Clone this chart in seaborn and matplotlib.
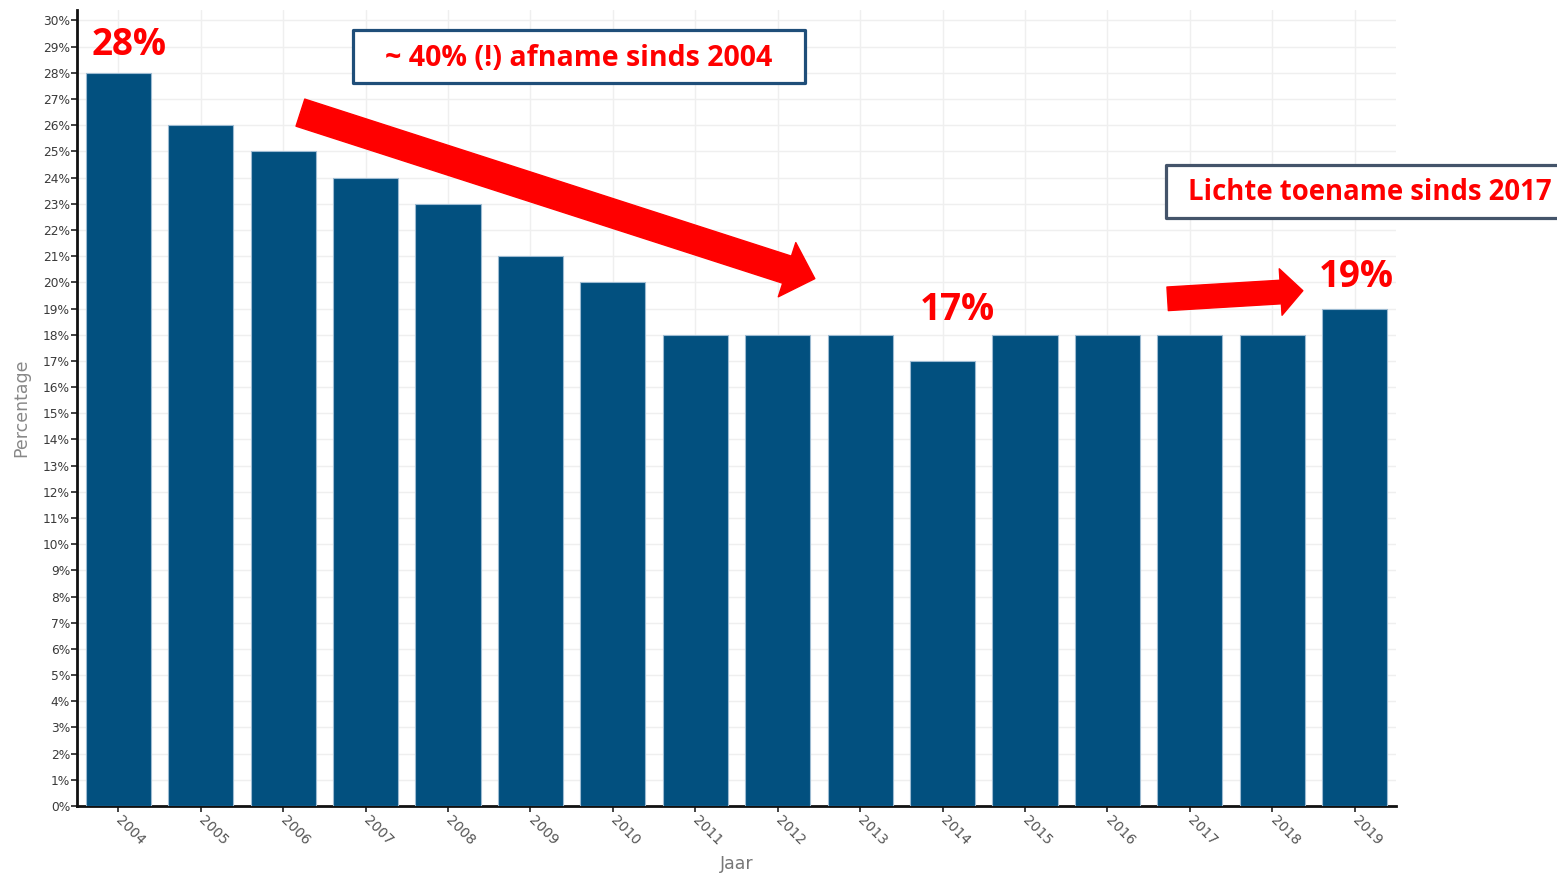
import matplotlib
matplotlib.use("Agg")
import matplotlib.pyplot as plt
from matplotlib.patches import FancyArrowPatch, Rectangle
import seaborn as sns
import pandas as pd

# Share of respondents per year (percent)
years = ["2004", "2005", "2006", "2007", "2008", "2009", "2010", "2011",
         "2012", "2013", "2014", "2015", "2016", "2017", "2018", "2019"]
percentages = [28, 26, 25, 24, 23, 21, 20, 18, 18, 18, 17, 18, 18, 18, 18, 19]

# Years whose value is written above the bar
highlight_years = ["2004", "2014", "2019"]

# Callout texts
callout_decline = "~ 40% (!) afname sinds 2004"
callout_rise = "Lichte toename sinds 2017"

BAR_COLOR = "#02507f"
RED = "#ff0000"
ANNOT_FONT = ["Open Sans", "DejaVu Sans"]

sns.set_theme(style="white")
plt.rcParams["font.family"] = ["DejaVu Sans"]

df = pd.DataFrame({"Jaar": years, "Percentage": percentages})

W, H = 1557, 873
fig = plt.figure(figsize=(W / 100, H / 100), dpi=100)
ax = fig.add_axes([77 / W, (H - 806) / H, (1396 - 77) / W, (806 - 10) / H])

sns.barplot(data=df, x="Jaar", y="Percentage", color=BAR_COLOR, saturation=1,
            width=0.79, edgecolor="#9dbbd2", linewidth=0.8, ax=ax, zorder=3)

ax.set_xlim(-0.5, len(years) - 0.5)
ax.set_ylim(0, 30.4)
ax.set_yticks(range(0, 31))
ax.set_yticklabels([f"{v}%" for v in range(0, 31)], fontsize=8.8, color="#3a3a3a")
ax.set_xticks(range(len(years)))
ax.set_xticklabels(years, rotation=-45, ha="left", va="center",
                   rotation_mode="anchor", fontsize=10, color="#555555")

ax.grid(True, color="#efefef", linewidth=1, zorder=0)
ax.set_axisbelow(True)
for side in ("top", "right"):
    ax.spines[side].set_visible(False)
for side in ("left", "bottom"):
    ax.spines[side].set_color("#111111")
    ax.spines[side].set_linewidth(2)
ax.tick_params(axis="y", which="major", length=4, width=1.2, color="#222222",
               direction="out", pad=1, left=True)
ax.tick_params(axis="x", which="major", length=4, width=1.2, color="#222222",
               direction="out", pad=5, bottom=True)

ax.set_xlabel("Jaar", fontsize=12.5, color="#777777", labelpad=5)
ax.set_ylabel("Percentage", fontsize=12.5, color="#888888", labelpad=9)

# Value labels above the highlighted bars
label_offsets = {"2004": (0.13, 1.08), "2014": (0.18, 1.95), "2019": (0.02, 1.2)}
for yr in highlight_years:
    i = years.index(yr)
    v = percentages[i]
    dx, dy = label_offsets[yr]
    ax.text(i + dx, v + dy, f"{v}%", color=RED, fontsize=26.5, fontweight="bold",
            family=ANNOT_FONT, ha="center", va="center", zorder=5)

# Trend arrows
arrow_down = FancyArrowPatch(
    (2.21, 26.48), (8.45, 20.14),
    arrowstyle="simple,head_length=21,head_width=41,tail_width=20.5",
    mutation_scale=1, shrinkA=0, shrinkB=0, color=RED, zorder=6,
    clip_on=False)
ax.add_patch(arrow_down)

arrow_up = FancyArrowPatch(
    (12.73, 19.37), (14.37, 19.68),
    arrowstyle="simple,head_length=16,head_width=33.5,tail_width=17",
    mutation_scale=1, shrinkA=0, shrinkB=0, color=RED, zorder=6,
    clip_on=False)
ax.add_patch(arrow_up)

# Callout boxes
box1 = Rectangle((353 / W, (H - 83) / H), 452 / W, 53 / H,
                 transform=fig.transFigure, fill=True, facecolor="white",
                 edgecolor="#1f4e79", linewidth=2.3, joinstyle="round",
                 zorder=7)
fig.patches.append(box1)
fig.text(579 / W, 1 - 59 / H, callout_decline, color=RED, fontsize=20.5,
         fontweight="bold", family=ANNOT_FONT, ha="center", va="center",
         zorder=8)

box2 = Rectangle((1166 / W, (H - 218) / H), 420 / W, 53 / H,
                 transform=fig.transFigure, fill=True, facecolor="white",
                 edgecolor="#44546a", linewidth=2.3, joinstyle="round",
                 zorder=7)
fig.patches.append(box2)
fig.text(1370 / W, 1 - 193 / H, callout_rise, color=RED, fontsize=19.8,
         fontweight="bold", family=ANNOT_FONT, ha="center", va="center",
         zorder=8)

fig.savefig("out.png", dpi=100, facecolor="white")
